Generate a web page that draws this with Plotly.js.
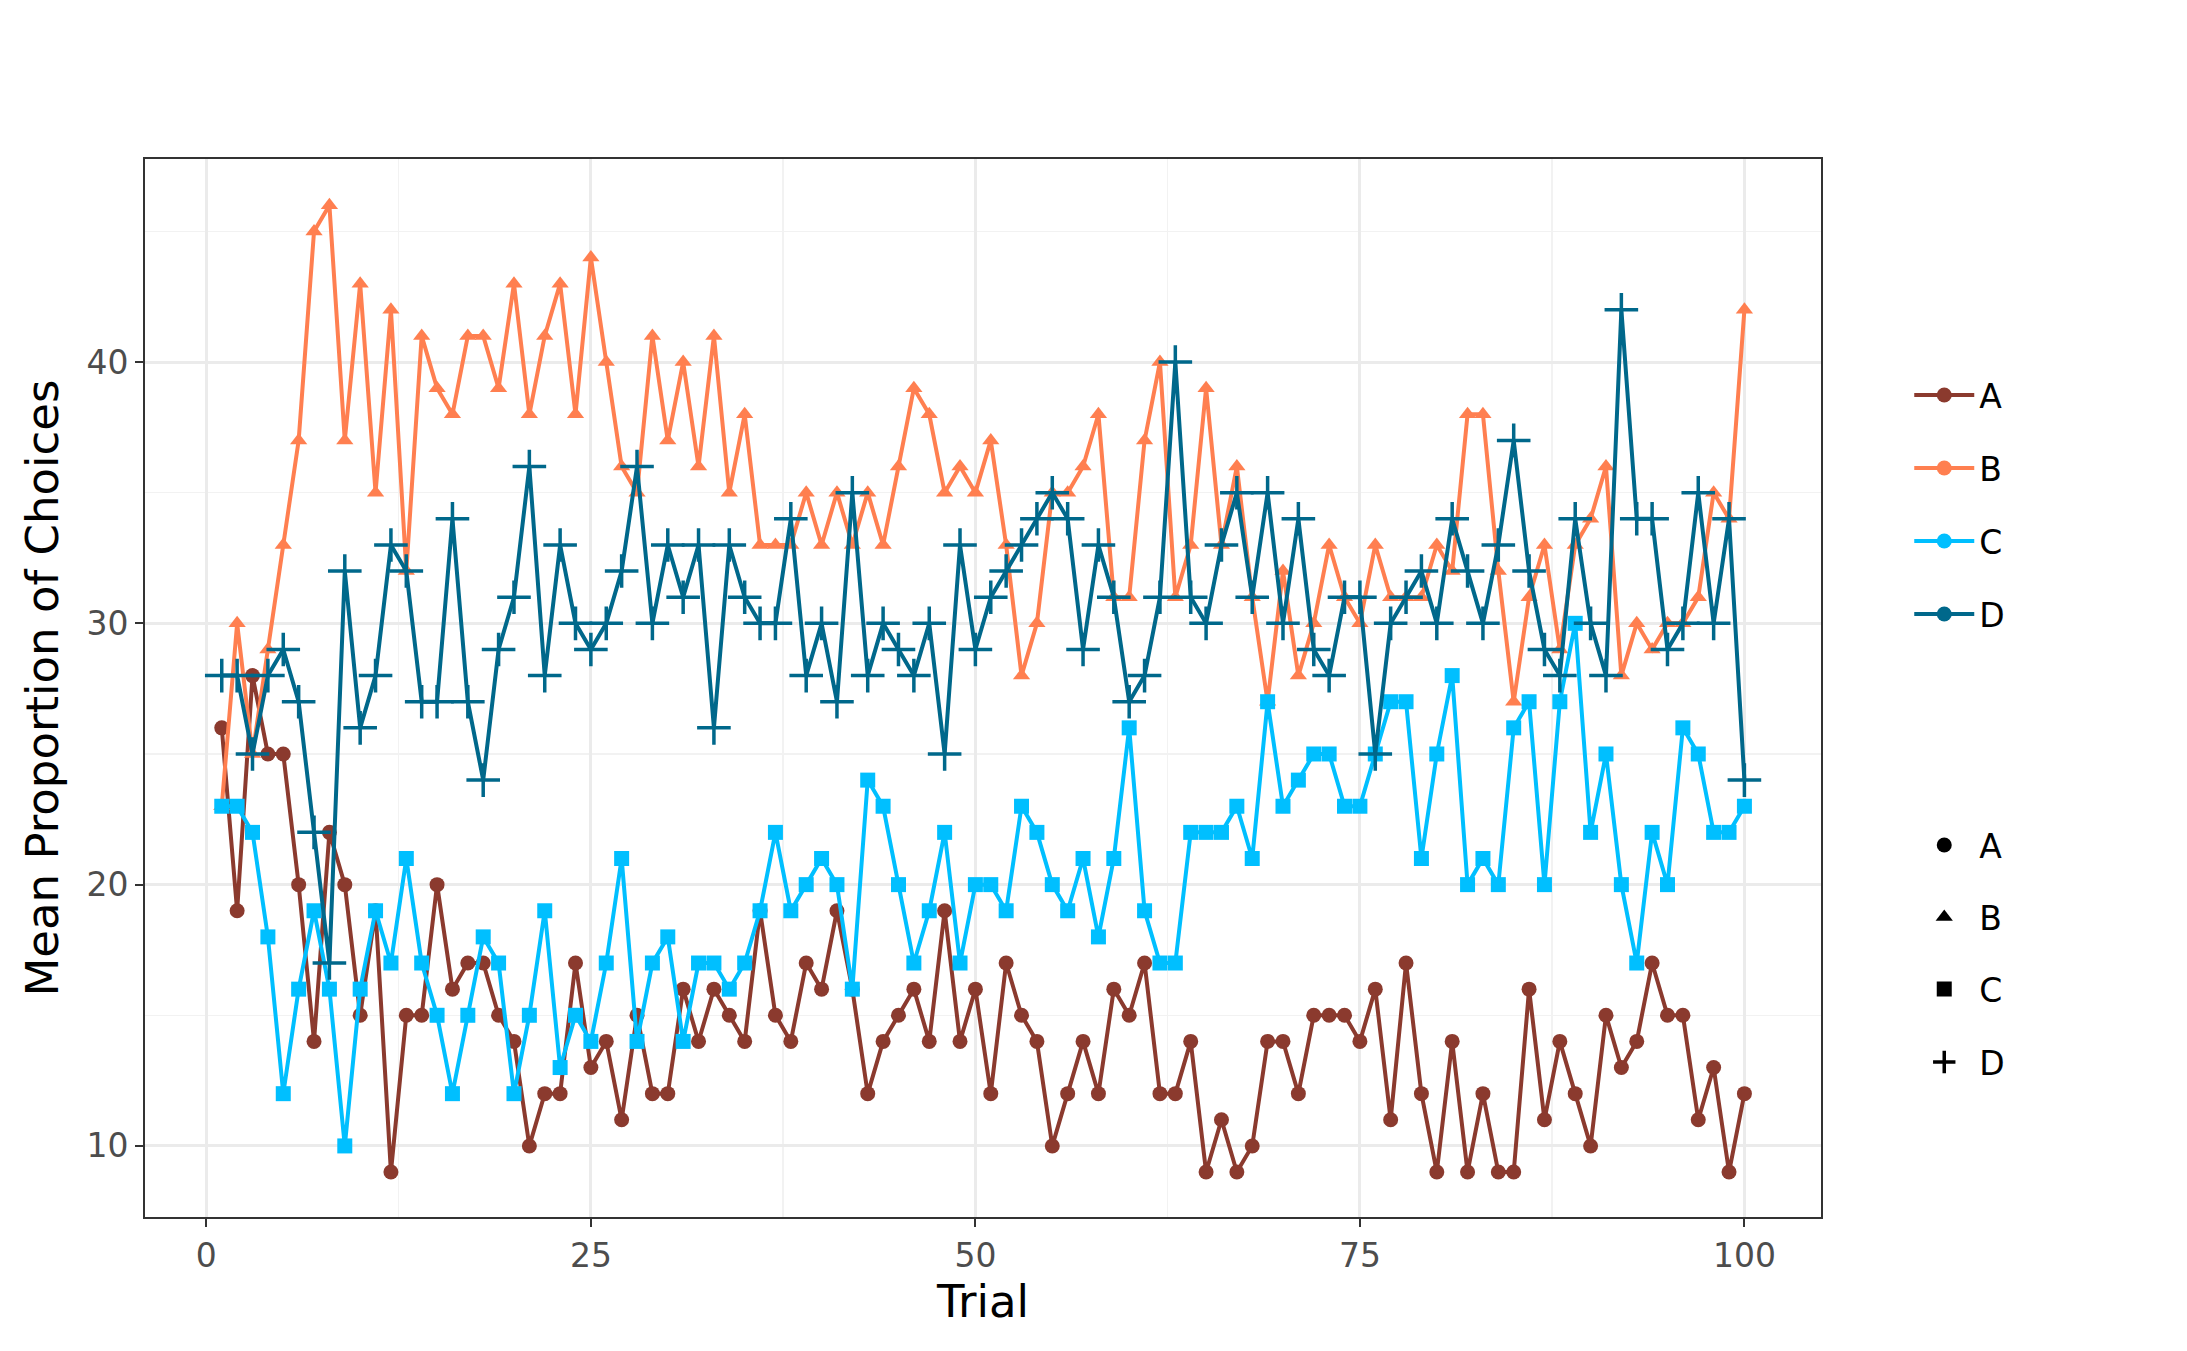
<!DOCTYPE html>
<html>
<head>
<meta charset="utf-8">
<script src="https://cdn.plot.ly/plotly-3.0.1.min.js"></script>
<style>body{margin:0;background:#fff}#plot{width:2187px;height:1351px}</style>
</head>
<body>
<div id="plot"></div>
<script>
// one value per trial, trials 1..100
var trials = [];
for (var i = 1; i <= 100; i++) trials.push(i);

var deckA = [26,19,28,25,25,20,14,22,20,15,19,9,15,15,20,16,17,17,15,14,10,12,12,17,13,14,11,15,12,12,16,14,16,15,14,19,15,14,17,16,19,16,12,14,15,16,14,19,14,16,12,17,15,14,10,12,14,12,16,15,17,12,12,14,9,11,9,10,14,14,12,15,15,15,14,16,11,17,12,9,14,9,12,9,9,16,11,14,12,10,15,13,14,17,15,15,11,13,9,12];
var deckB = [23,30,25,29,33,37,45,46,37,43,35,42,32,41,39,38,41,41,39,43,38,41,43,38,44,40,36,35,41,37,40,36,41,35,38,33,33,33,35,33,35,33,35,33,36,39,38,35,36,35,37,33,28,30,35,35,36,38,31,31,37,40,31,33,39,33,36,31,27,32,28,30,33,31,30,33,31,31,31,33,32,38,38,32,27,31,33,29,33,34,36,28,30,29,30,30,31,35,34,42];
var deckC = [23,23,22,18,12,16,19,16,10,16,19,17,21,17,15,12,15,18,17,12,15,19,13,15,14,17,21,14,17,18,14,17,17,16,17,19,22,19,20,21,20,16,24,23,20,17,19,22,17,20,20,19,23,22,20,19,21,18,21,26,19,17,17,22,22,22,23,21,27,23,24,25,25,23,23,25,27,27,21,25,28,20,21,20,26,27,20,27,30,22,25,20,17,22,20,26,25,22,22,23,22];
deckC = deckC.slice(0, 100);
var deckD = [28,28,25,28,29,27,22,17,32,26,28,33,32,27,27,34,27,24,29,31,36,28,33,30,29,30,32,36,30,33,31,33,26,33,31,30,30,34,28,30,27,35,28,30,29,28,30,25,33,29,31,32,33,34,35,34,29,33,31,27,28,31,40,31,30,33,35,31,35,30,34,29,28,31,31,25,30,31,32,30,34,32,30,33,37,32,29,28,34,30,28,42,34,34,29,30,35,30,34,24];

var decks = ['A', 'B', 'C', 'D'];
var colors = {A: '#8B3A2E', B: '#FF7F50', C: '#00BFFF', D: '#00688B'};
var shapes = {A: 'circle', B: 'triangle-up', C: 'square', D: 'cross-thin-open'};
var values = {A: deckA, B: deckB, C: deckC, D: deckD};

function markerFor(d, col) {
  return {symbol: shapes[d], size: d == 'D' ? 24 : 15, color: col,
          line: {color: col, width: d == 'D' ? 3.5 : 0}};
}

var traces = [];
decks.forEach(function (d) {
  traces.push({
    x: trials, y: values[d], type: 'scatter', mode: 'lines+markers', name: d,
    showlegend: false,
    line: {color: colors[d], width: 4},
    marker: markerFor(d, colors[d])
  });
});

// legend keys only: one small legend per key so the spacing matches
var layoutLegends = {};
var keyRowsCol = [395, 468, 541, 614];
var keyRowsShape = [845, 917, 989, 1062];
decks.forEach(function (d, i) {
  var n1 = 'legend' + (i == 0 ? '' : (i + 1));
  var n2 = 'legend' + (i + 5);
  traces.push({
    x: [null], y: [null], type: 'scatter', mode: 'lines+markers', name: d,
    legend: n1, line: {color: colors[d], width: 4},
    marker: {symbol: 'circle', size: 15, color: colors[d]}
  });
  traces.push({
    x: [null], y: [null], type: 'scatter', mode: 'markers', name: d,
    legend: n2, marker: markerFor(d, '#000')
  });
  [[n1, keyRowsCol[i]], [n2, keyRowsShape[i]]].forEach(function (p) {
    layoutLegends[p[0]] = {
      xref: 'container', yref: 'container', x: 0.873, y: 1 - p[1] / 1351,
      xanchor: 'left', yanchor: 'middle', font: {size: 33},
      itemwidth: 60, bgcolor: 'rgba(0,0,0,0)'
    };
  });
});

var gridAxis = {
  showline: true, mirror: true, linecolor: '#333', linewidth: 2,
  ticks: 'outside', ticklen: 8, tickwidth: 2, tickcolor: '#333',
  gridcolor: '#EBEBEB', gridwidth: 3, zeroline: false,
  tickfont: {size: 33, color: '#4D4D4D'},
};

var layout = Object.assign({
  width: 2187, height: 1351,
  font: {family: 'DejaVu Sans', color: '#000'},
  paper_bgcolor: '#fff', plot_bgcolor: '#fff',
  margin: {l: 145, r: 366, t: 159, b: 134},
  xaxis: Object.assign({}, gridAxis, {
    range: [-3.99, 104.98], tickvals: [0, 25, 50, 75, 100],
    minor: {dtick: 12.5, tick0: 0, showgrid: true, gridcolor: '#F2F2F2', gridwidth: 1.5, ticks: ''},
    title: {text: 'Trial', font: {size: 45}, standoff: 10}
  }),
  yaxis: Object.assign({}, gridAxis, {
    range: [7.28, 47.77], tickvals: [10, 20, 30, 40],
    minor: {dtick: 5, tick0: 0, showgrid: true, gridcolor: '#F2F2F2', gridwidth: 1.5, ticks: ''},
    title: {text: 'Mean Proportion of Choices', font: {size: 45}, standoff: 14}
  }),
  annotations: [
    {text: 'Horstmann', xref: 'paper', yref: 'container', x: 0, y: 1 - 46 / 1351,
     xanchor: 'left', yanchor: 'middle', showarrow: false, font: {size: 54}},
    {text: 'Mean Proportion of Choices by Deck each 1 Trials', xref: 'paper', yref: 'container',
     x: 0, y: 1 - 104 / 1351, xanchor: 'left', yanchor: 'middle', showarrow: false, font: {size: 54}},
    {text: 'Deck Goup', xref: 'container', yref: 'container', x: 1909 / 2187, y: 1 - 317 / 1351,
     xanchor: 'left', yanchor: 'middle', showarrow: false, font: {size: 45}},
    {text: 'x', xref: 'container', yref: 'container', x: 1909 / 2187, y: 1 - 768 / 1351,
     xanchor: 'left', yanchor: 'middle', showarrow: false, font: {size: 45}}
  ]
}, layoutLegends);

Plotly.newPlot('plot', traces, layout, {staticPlot: true});
</script>
</body>
</html>
